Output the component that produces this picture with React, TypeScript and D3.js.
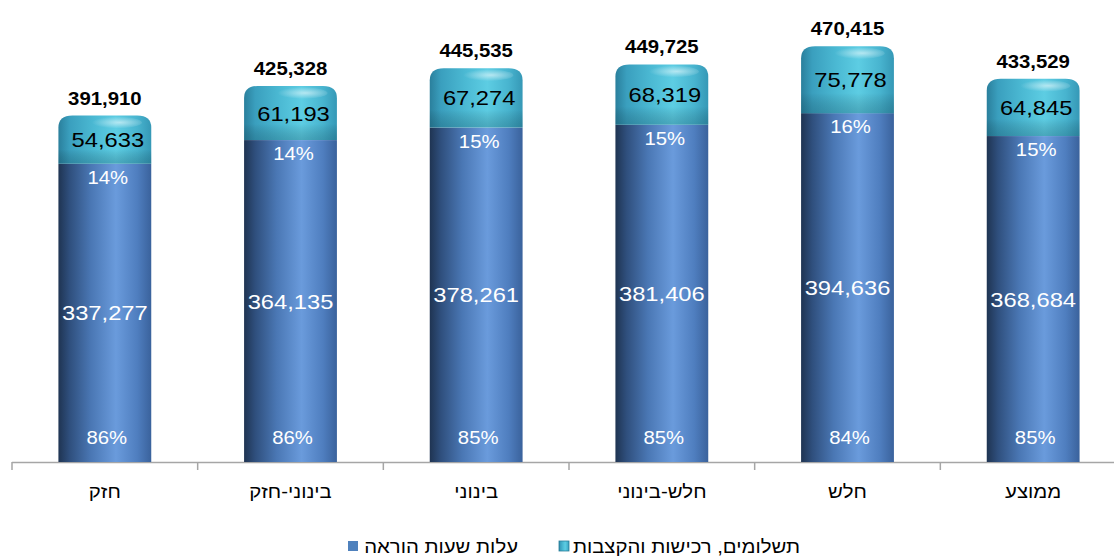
import React, { useEffect, useRef } from "react";
import * as d3 from "d3";

// categories in visual order (left to right)
const categories = ["חזק", "בינוני-חזק", "בינוני", "חלש-בינוני", "חלש", "ממוצע"];
// עלות שעות הוראה
const teachingCost = [337277, 364135, 378261, 381406, 394636, 368684];
// תשלומים, רכישות והקצבות
const paymentsCost = [54633, 61193, 67274, 68319, 75778, 64845];
// totals as printed on the chart
const totals = [391910, 425328, 445535, 449725, 470415, 433529];
const bottomPct = ["86%", "86%", "85%", "85%", "84%", "85%"];
const topPct = ["14%", "14%", "15%", "15%", "16%", "15%"];
const legendLabels = ["עלות שעות הוראה", "תשלומים, רכישות והקצבות"];

const W = 1114;
const H = 557;
const FONT = "'Liberation Sans', Arial, 'DejaVu Sans', sans-serif";
const SX = 1.13; // the original text looks stretched horizontally

function drawChart(svgEl: SVGSVGElement) {
  const svg = d3.select(svgEl);
  svg.selectAll("*").remove();

  const x = d3
    .scaleBand<string>()
    .domain(categories)
    .range([12, 1126])
    .paddingInner(0.5)
    .paddingOuter(0.25);
  const y = d3.scaleLinear().domain([0, 522600]).range([462, 0]);
  const bw = x.bandwidth();
  const step = x.step();

  // gradients
  const defs = svg.append("defs");
  const blue = defs.append("linearGradient").attr("id", "gBlue").attr("x1", 0).attr("x2", 1).attr("y1", 0).attr("y2", 0);
  [
    [0, "#1f3452"],
    [0.12, "#2f4f7d"],
    [0.35, "#4a77b4"],
    [0.62, "#6a9bdc"],
    [0.85, "#4f7ebf"],
    [1, "#3a629c"],
  ].forEach(([o, c]) => blue.append("stop").attr("offset", o as number).attr("stop-color", c as string));

  const teal = defs.append("linearGradient").attr("id", "gTeal").attr("x1", 0).attr("x2", 1).attr("y1", 0).attr("y2", 0);
  [
    [0, "#2a7f9c"],
    [0.12, "#3a9fbe"],
    [0.38, "#4bb9d3"],
    [0.62, "#5dcde3"],
    [0.85, "#48b4cf"],
    [1, "#3598b6"],
  ].forEach(([o, c]) => teal.append("stop").attr("offset", o as number).attr("stop-color", c as string));

  const hl = defs.append("radialGradient").attr("id", "gHl").attr("cx", 0.6).attr("cy", 0.5).attr("r", 0.5);
  hl.append("stop").attr("offset", 0).attr("stop-color", "#ffffff").attr("stop-opacity", 0.55);
  hl.append("stop").attr("offset", 1).attr("stop-color", "#ffffff").attr("stop-opacity", 0);

  const shade = defs.append("linearGradient").attr("id", "gShade").attr("x1", 0).attr("x2", 0).attr("y1", 0).attr("y2", 1);
  shade.append("stop").attr("offset", 0).attr("stop-color", "#000").attr("stop-opacity", 0);
  shade.append("stop").attr("offset", 0.7).attr("stop-color", "#000").attr("stop-opacity", 0);
  shade.append("stop").attr("offset", 1).attr("stop-color", "#0b3a4a").attr("stop-opacity", 0.25);

  const label = (
    g: d3.Selection<any, any, any, any>,
    tx: number,
    ty: number,
    txt: string,
    size: number,
    fill: string,
    bold = false,
    anchor = "middle"
  ) =>
    g
      .append("text")
      .attr("transform", `translate(${tx},${ty}) scale(${SX},1)`)
      .attr("text-anchor", anchor)
      .style("font-family", FONT)
      .style("font-size", `${size}px`)
      .style("font-weight", bold ? "bold" : "normal")
      .style("fill", fill)
      .text(txt);

  // axis line and boundary ticks
  const axis = svg.append("g");
  axis
    .append("line")
    .attr("x1", 12)
    .attr("x2", W)
    .attr("y1", y(0) + 0.5)
    .attr("y2", y(0) + 0.5)
    .attr("stroke", "#a6a6a6")
    .attr("stroke-width", 1.5);
  categories.forEach((c) => {
    const bx = (x(c) as number) - (step - bw) / 2;
    axis
      .append("line")
      .attr("x1", bx)
      .attr("x2", bx)
      .attr("y1", y(0))
      .attr("y2", y(0) + 8)
      .attr("stroke", "#a6a6a6")
      .attr("stroke-width", 1.5);
  });

  // bars
  const bars = svg.append("g");
  categories.forEach((c, i) => {
    const x0 = x(c) as number;
    const cx = x0 + bw / 2;
    const yb = y(0);
    const ym = y(teachingCost[i]);
    const yt = y(teachingCost[i] + paymentsCost[i]);
    const rx = 14;
    const ry = 12;

    // bottom segment
    bars
      .append("rect")
      .attr("x", x0)
      .attr("y", ym)
      .attr("width", bw)
      .attr("height", yb - ym)
      .attr("fill", "url(#gBlue)");

    // top segment (rounded cylinder cap)
    const p = `M${x0},${ym} L${x0},${yt + ry} Q${x0},${yt} ${x0 + rx},${yt} L${x0 + bw - rx},${yt} Q${x0 + bw},${yt} ${x0 + bw},${yt + ry} L${x0 + bw},${ym} Z`;
    bars.append("path").attr("d", p).attr("fill", "url(#gTeal)");
    bars.append("path").attr("d", p).attr("fill", "url(#gShade)");
    bars
      .append("ellipse")
      .attr("cx", x0 + bw * 0.6)
      .attr("cy", yt + 7)
      .attr("rx", bw * 0.3)
      .attr("ry", 6)
      .attr("fill", "url(#gHl)");

    // labels
    label(bars, cx, yt - 11, d3.format(",")(totals[i]), 18, "#000", true);
    label(bars, cx + 3, (yt + ym) / 2 + 7.5, d3.format(",")(paymentsCost[i]), 21, "#000");
    label(bars, cx + 3, ym + 20, topPct[i], 18, "#ffffff");
    label(bars, cx, (ym + yb) / 2 + 7.5, d3.format(",")(teachingCost[i]), 21, "#ffffff");
    label(bars, cx + 2, yb - 18, bottomPct[i], 18, "#ffffff");

    // category label
    label(bars, cx, 498, c, 18, "#000");
  });

  // legend
  const lg = svg.append("g");
  lg.append("rect").attr("x", 348).attr("y", 541).attr("width", 10).attr("height", 10).attr("fill", "#4f81bd");
  label(lg, 518, 553, legendLabels[0], 18, "#000", false, "end");
  lg.append("rect").attr("x", 559).attr("y", 541).attr("width", 10).attr("height", 10).attr("fill", "url(#gTeal)").attr("stroke", "#2a7f9c").attr("stroke-width", 0.8);
  label(lg, 800, 553, legendLabels[1], 18, "#000", false, "end");
}

export default function App() {
  const ref = useRef<SVGSVGElement>(null);
  useEffect(() => {
    if (ref.current) drawChart(ref.current);
  }, []);
  return (
    <svg
      ref={ref}
      width={W}
      height={H}
      style={{ position: "absolute", left: 0, top: 0, background: "#ffffff" }}
    />
  );
}
